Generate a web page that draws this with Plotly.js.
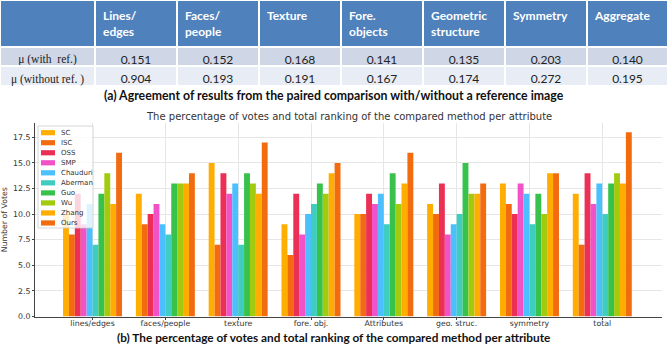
<!DOCTYPE html>
<html>
<head>
<meta charset="utf-8">
<script src="https://cdn.plot.ly/plotly-3.0.1.min.js"></script>
<style>html,body{margin:0;padding:0;background:#fff;}#chart{width:668px;height:347px;}</style>
</head>
<body>
<div id="chart"></div>
<script>
// ---------- data: table ----------
const tableHeaders = ['', 'Lines/<br>edges', 'Faces/<br>people', 'Texture', 'Fore.<br>objects', 'Geometric<br>structure', 'Symmetry', 'Aggregate'];
const rowLabels = ['μ (with  ref.)', 'μ (without ref. )'];
const muWithRef = ['0.151', '0.152', '0.168', '0.141', '0.135', '0.203', '0.140'];
const muWithoutRef = ['0.904', '0.193', '0.191', '0.167', '0.174', '0.272', '0.195'];

// ---------- data: bar chart ----------
const categories = ['lines/edges', 'faces/people', 'texture', 'fore. obj.', 'Attributes', 'geo. struc.', 'symmetry', 'total'];
const methods = ['SC', 'ISC', 'OSS', 'SMP', 'Chauduri', 'Aberman', 'Guo', 'Wu', 'Zhang', 'Ours'];
const SC       = [10, 12, 15, 9, 10, 11, 13, 12];
const ISC      = [8, 9, 7, 6, 10, 10, 11, 7];
const OSS      = [12, 10, 14, 12, 12, 13, 10, 14];
const SMP      = [9, 11, 12, 8, 11, 8, 13, 11];
const Chauduri = [11, 9, 13, 10, 12, 9, 12, 13];
const Aberman  = [7, 8, 7, 11, 9, 10, 9, 10];
const Guo      = [12, 13, 14, 13, 14, 15, 12, 13];
const Wu       = [14, 13, 13, 12, 11, 12, 10, 14];
const Zhang    = [11, 13, 12, 14, 13, 12, 14, 13];
const Ours     = [16, 14, 17, 15, 16, 13, 14, 18];
const seriesValues = [SC, ISC, OSS, SMP, Chauduri, Aberman, Guo, Wu, Zhang, Ours];

const chartTitle = 'The percentage of votes and total ranking of the compared method per attribute';
const captionA = '(a) Agreement of results from the paired comparison with/without a reference image';
const captionB = '(b) The percentage of votes and total ranking of the compared method per attribute';

// ---------- styling ----------
const colors = ['#FFAD00', '#F26B0F', '#EC2F55', '#F252C8', '#4CC0FF', '#3ECDC0', '#38C24C', '#A2CB10', '#FFAD00', '#F26B0F'];
const W = 668, H = 347;
const px = x => x / W;
const py = y => 1 - y / H;

// table
const row1 = '#CFD7E7', row2 = '#E8ECF4';
const tableCols = [rowLabels].concat(muWithRef.map((v, i) => [v, muWithoutRef[i]]));
const tableTrace = {
  type: 'table',
  domain: {x: [0, 1], y: [py(86), 1]},
  columnwidth: [95, 82, 82, 82, 82, 82, 82, 81],
  header: {
    values: tableHeaders.map(h => h ? '<b>' + h + '</b>' : ''),
    align: 'left',
    height: 46,
    fill: {color: '#4F81BD'},
    line: {color: '#ffffff', width: 2},
    font: {family: 'Lato, Open Sans, sans-serif', size: 12, color: '#ffffff'}
  },
  cells: {
    values: tableCols,
    align: 'center',
    height: 19.5,
    fill: {color: tableCols.map(() => [row1, row2])},
    line: {color: '#ffffff', width: 2},
    font: {
      family: tableCols.map((c, i) => i === 0 ? 'Liberation Serif, serif' : 'Lato, sans-serif'),
      size: tableCols.map((c, i) => i === 0 ? 11.5 : 12),
      color: '#222222'
    }
  }
};

const barTraces = methods.map((m, i) => ({
  type: 'bar',
  name: m,
  x: categories,
  y: seriesValues[i],
  marker: {color: colors[i], line: {width: 0}},
  showlegend: false,
  hoverinfo: 'skip'
}));

// manual compact legend (matplotlib-like)
const shapes = [{
  type: 'rect', xref: 'paper', yref: 'paper', layer: 'above',
  x0: px(38), x1: px(93), y0: py(228), y1: py(126),
  fillcolor: 'rgba(255,255,255,0.8)', line: {color: '#cccccc', width: 0.8}
}];
const annotations = [];
methods.forEach((m, i) => {
  const yc = 132.7 + i * 10.03;
  shapes.push({
    type: 'rect', xref: 'paper', yref: 'paper', layer: 'above',
    x0: px(41), x1: px(55), y0: py(yc + 2.6), y1: py(yc - 2.6),
    fillcolor: colors[i], line: {width: 0}
  });
  annotations.push({
    xref: 'paper', yref: 'paper', x: px(59), y: py(yc), xanchor: 'left', yanchor: 'middle',
    text: m, showarrow: false, font: {family: 'DejaVu Sans', size: 7, color: '#333333'}
  });
});
annotations.push({
  xref: 'paper', yref: 'paper', x: px(334), y: py(96), xanchor: 'center', yanchor: 'middle',
  text: '<b>' + captionA + '</b>', showarrow: false,
  font: {family: 'Lato, sans-serif', size: 12.3, color: '#111111'}
});
annotations.push({
  xref: 'paper', yref: 'paper', x: px(333), y: py(337), xanchor: 'center', yanchor: 'middle',
  text: '<b>' + captionB + '</b>', showarrow: false,
  font: {family: 'Lato, sans-serif', size: 11.8, color: '#111111'}
});
annotations.push({
  xref: 'paper', yref: 'paper', x: px(349), y: py(116), xanchor: 'center', yanchor: 'middle',
  text: chartTitle, showarrow: false,
  font: {family: 'DejaVu Sans', size: 10, color: '#333333'}
});

const layout = {
  width: W, height: H,
  margin: {l: 0, r: 0, t: 0, b: 0, pad: 0},
  paper_bgcolor: '#ffffff', plot_bgcolor: '#ffffff',
  barmode: 'group', bargap: 0.19, bargroupgap: 0,
  showlegend: false,
  xaxis: {
    domain: [px(35), px(662)],
    type: 'category',
    range: [-0.79, 7.82],
    showgrid: true, gridcolor: '#E6E6E6', gridwidth: 1,
    showline: true, linecolor: '#444444', linewidth: 1,
    ticks: 'outside', ticklen: 2, tickcolor: '#444444',
    ticklabelstandoff: -3,
    tickfont: {family: 'DejaVu Sans', size: 7.8, color: '#333333'},
    zeroline: false, fixedrange: true
  },
  yaxis: {
    domain: [py(316.5), py(123)],
    range: [0, 18.9],
    dtick: 2.5, tick0: 0, tickformat: '.1f',
    showgrid: true, gridcolor: '#E6E6E6', gridwidth: 1,
    showline: true, linecolor: '#444444', linewidth: 1,
    ticks: 'outside', ticklen: 2, tickcolor: '#444444',
    tickfont: {family: 'DejaVu Sans', size: 7.8, color: '#333333'},
    title: {text: 'Number of Votes', font: {family: 'DejaVu Sans', size: 7.8, color: '#333333'}, standoff: 6},
    zeroline: false, fixedrange: true
  },
  shapes: shapes,
  annotations: annotations
};

Plotly.newPlot('chart', [tableTrace].concat(barTraces), layout, {displayModeBar: false, staticPlot: true});
</script>
</body>
</html>
